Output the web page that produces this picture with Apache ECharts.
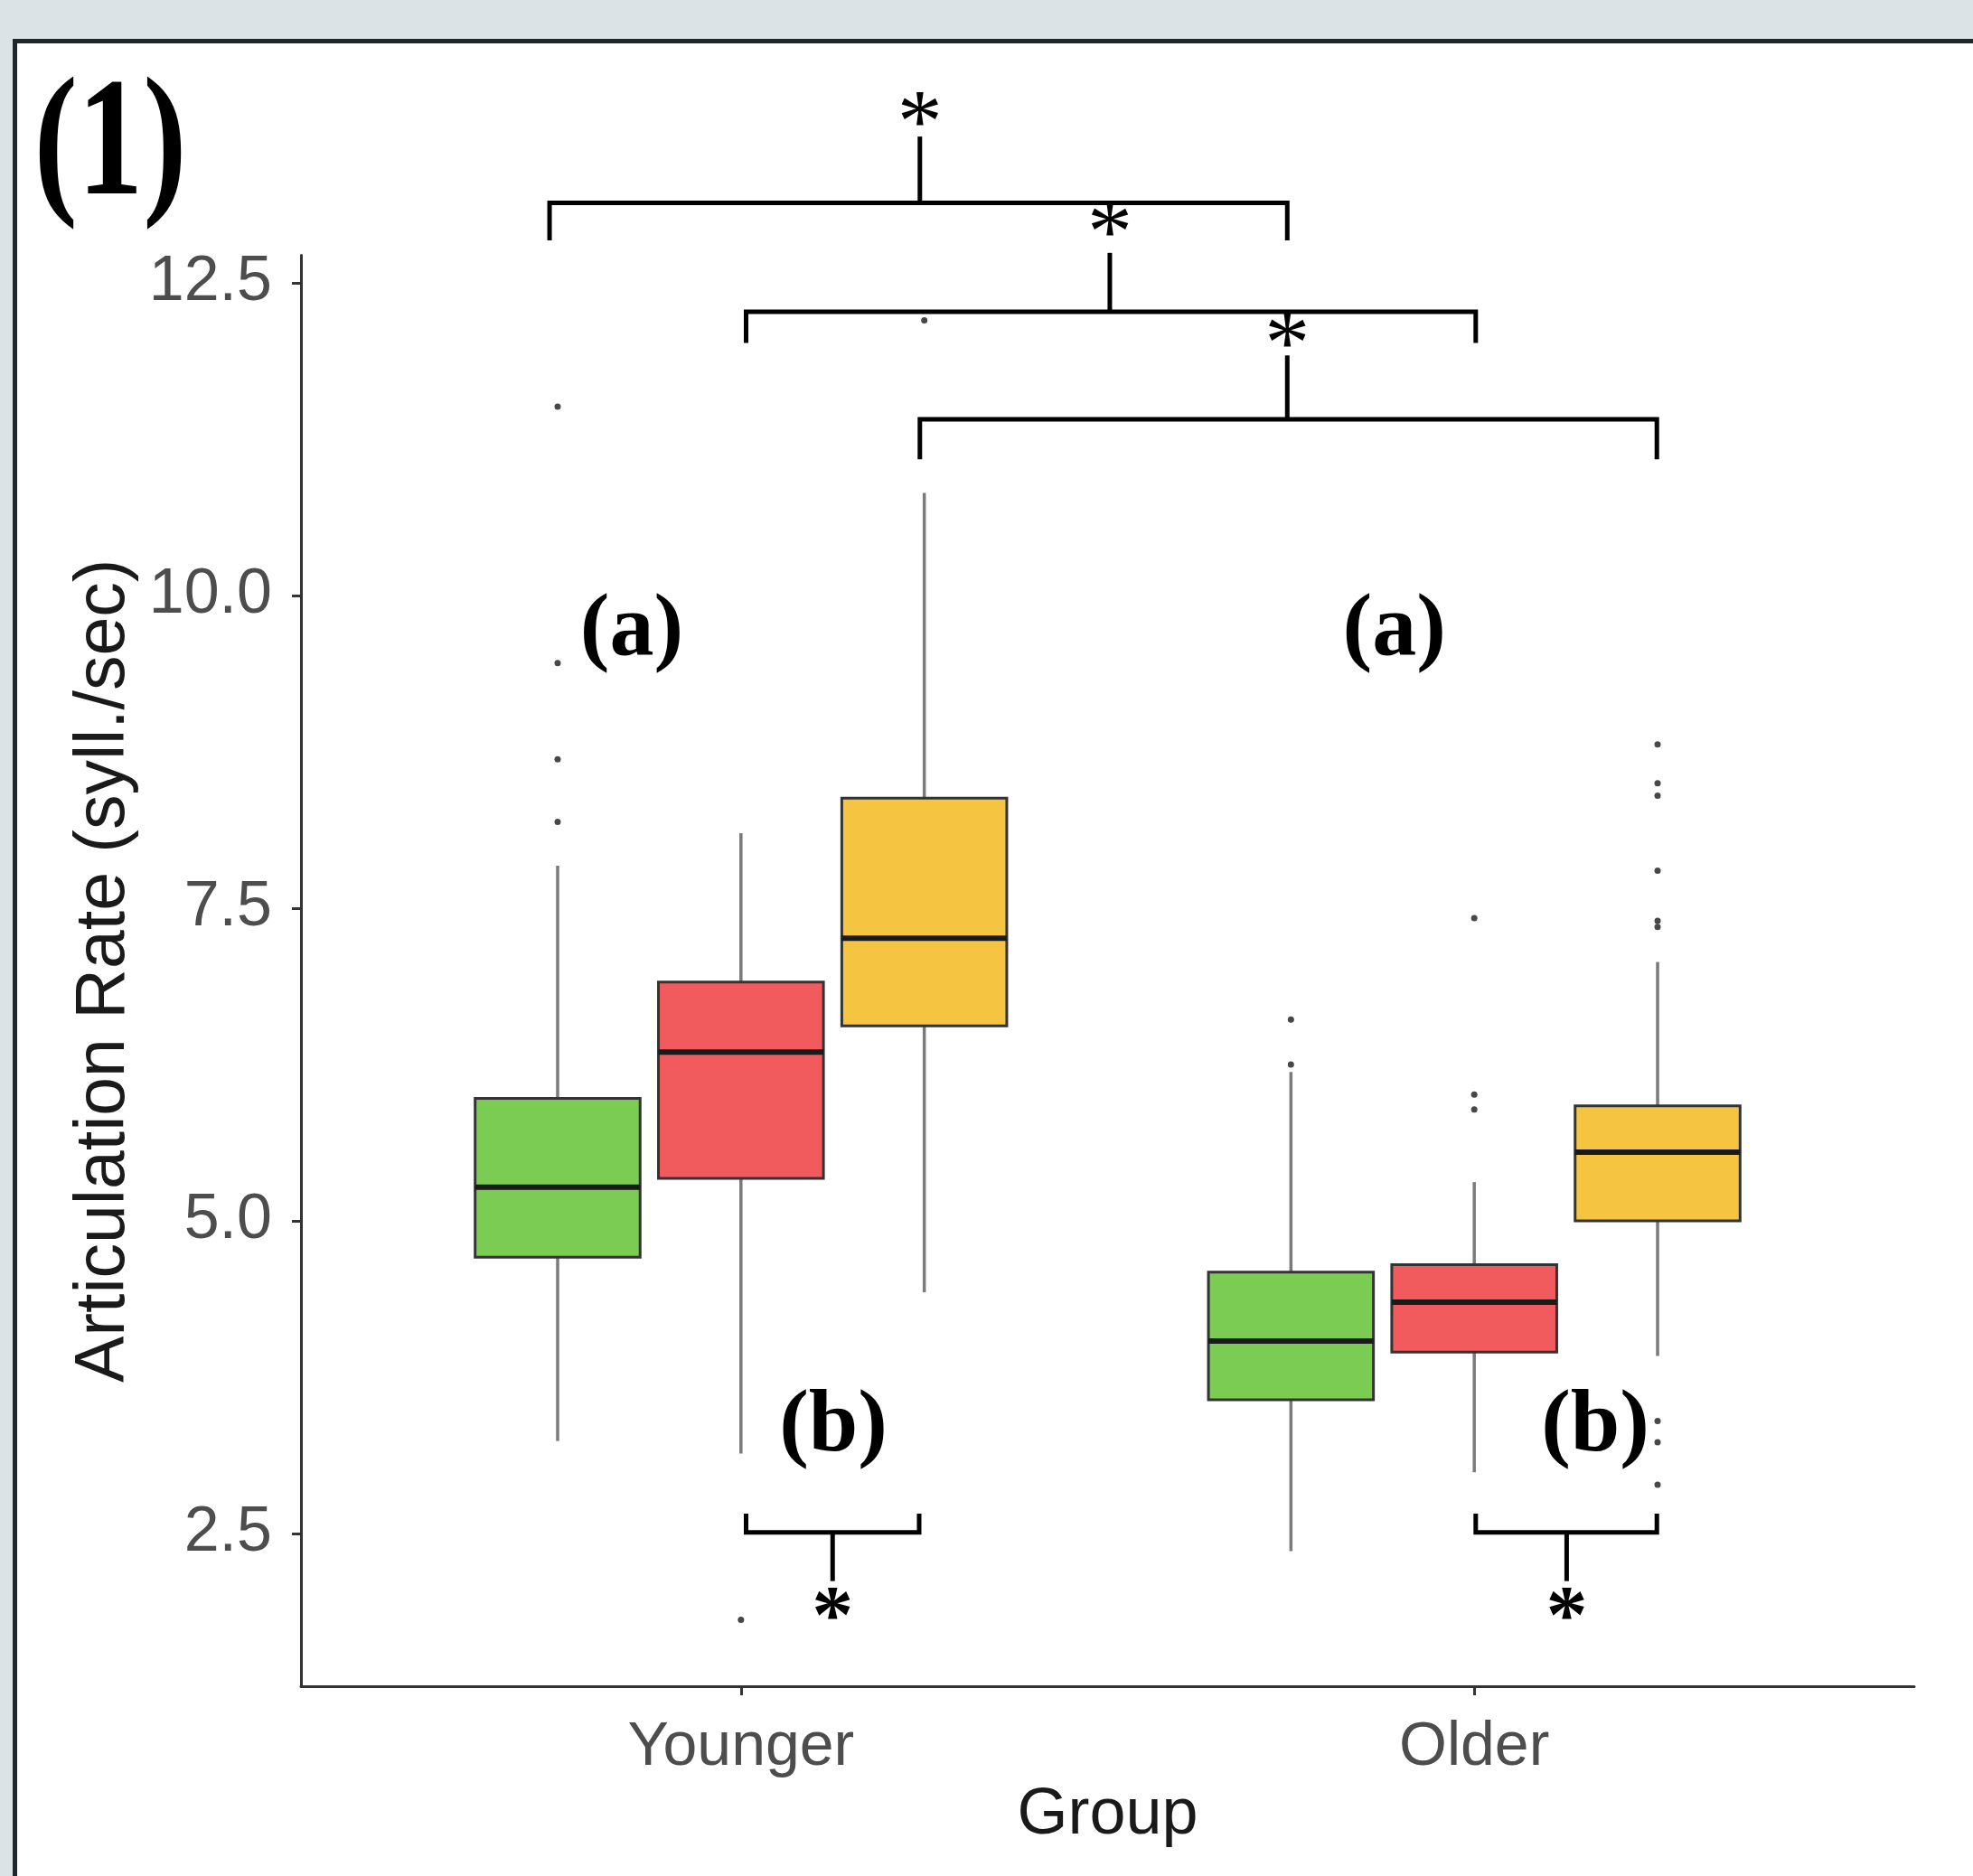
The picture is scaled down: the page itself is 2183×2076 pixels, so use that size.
<!DOCTYPE html>
<html>
<head>
<meta charset="utf-8">
<script src="https://cdn.jsdelivr.net/npm/echarts@6/dist/echarts.min.js"></script>
<style>
html, body { margin: 0; padding: 0; width: 2183px; height: 2076px; overflow: hidden; background: #dce3e6; }
#frame { position: absolute; left: 14px; top: 43px; width: 2250px; height: 2150px; background: #ffffff;
         border-left: 5px solid #1d272c; border-top: 5px solid #1d272c; }
#chart { position: absolute; left: 0; top: 0; width: 2183px; height: 2076px; }
</style>
</head>
<body>
<div id="frame"></div>
<div id="chart"></div>
<script>
// ---------- data ----------
const groups = ['Younger', 'Older'];
const conditions = ['Condition 1', 'Condition 2', 'Condition 3'];
const yTicks = [2.5, 5.0, 7.5, 10.0, 12.5];

// [min whisker, Q1, median, Q3, max whisker] for Younger, Older
const cond1Stats = [[3.24, 4.71, 5.27, 5.98, 7.84], [2.36, 3.57, 4.04, 4.59, 6.19]];
const cond2Stats = [[3.14, 5.34, 6.35, 6.91, 8.10], [2.99, 3.95, 4.35, 4.65, 5.31]];
const cond3Stats = [[4.43, 6.56, 7.26, 8.38, 10.82], [3.92, 5.00, 5.55, 5.92, 7.07]];

// outliers for Younger, Older
const cond1Outliers = [[11.51, 9.46, 8.69, 8.19], [6.61, 6.25]];
const cond2Outliers = [[1.81], [7.42, 6.01, 5.89]];
const cond3Outliers = [[12.2], [8.81, 8.50, 8.40, 7.80, 7.40, 7.35, 3.40, 3.23, 2.89]];

// significance brackets: [xStart, xEnd, xStem, yBar, yEnds, yStemEnd, yStar, bold]
const brackets = [
  [0.739, 1.745, 1.244, 13.14, 12.84, 13.67, 13.89, 0],
  [1.007, 2.002, 1.503, 12.27, 12.02, 12.74, 13.01, 0],
  [1.244, 2.249, 1.745, 11.41, 11.09, 11.92, 12.12, 0],
  [1.007, 1.243, 1.125, 2.51, 2.66, 2.12, 1.94, 1],
  [2.002, 2.249, 2.126, 2.51, 2.66, 2.12, 1.94, 1]
];
// letter annotations: text, x, y
const letterText = ['(a)', '(a)', '(b)', '(b)'];
const letterX = [0.851, 1.891, 1.126, 2.165];
const letterY = [9.73, 9.73, 3.36, 3.36];

// ---------- styling / layout ----------
const colors = ['#7acc52', '#f25b5e', '#f5c542'];
const dodge = [-0.25, 0, 0.25];
const BOX_W = 0.225;
const statsList = [cond1Stats, cond2Stats, cond3Stats];
const outlierList = [cond1Outliers, cond2Outliers, cond3Outliers];

function boxRenderer(color) {
  return function (params, api) {
    const x = api.value(0);
    const lo = api.coord([x, api.value(1)]);
    const q1 = api.coord([x, api.value(2)]);
    const md = api.coord([x, api.value(3)]);
    const q3 = api.coord([x, api.value(4)]);
    const hi = api.coord([x, api.value(5)]);
    const hw = api.size([BOX_W, 0])[0] / 2;
    const wStyle = { stroke: '#7a7a7a', lineWidth: 3.5 };
    return {
      type: 'group',
      children: [
        { type: 'line', shape: { x1: lo[0], y1: lo[1], x2: q1[0], y2: q1[1] }, style: wStyle },
        { type: 'line', shape: { x1: q3[0], y1: q3[1], x2: hi[0], y2: hi[1] }, style: wStyle },
        { type: 'rect', shape: { x: q1[0] - hw, y: q3[1], width: 2 * hw, height: q1[1] - q3[1] },
          style: { fill: color, stroke: '#333333', lineWidth: 3 } },
        { type: 'line', shape: { x1: md[0] - hw, y1: md[1], x2: md[0] + hw, y2: md[1] },
          style: { stroke: '#1a1a1a', lineWidth: 6 } }
      ]
    };
  };
}

function bracketRenderer(params, api) {
  const v = (i) => api.value(i);
  const pL = api.coord([v(0), v(3)]), pR = api.coord([v(1), v(3)]);
  const eL = api.coord([v(0), v(4)]), eR = api.coord([v(1), v(4)]);
  const sB = api.coord([v(2), v(3)]), sE = api.coord([v(2), v(5)]);
  const st = api.coord([v(2), v(6)]);
  const bold = v(7) === 1;
  const fs = bold ? 92 : 100;
  return {
    type: 'group',
    children: [
      { type: 'polyline', shape: { points: [eL, pL, pR, eR] },
        style: { stroke: '#000', lineWidth: 5, fill: null, lineJoin: 'miter' } },
      { type: 'line', shape: { x1: sB[0], y1: sB[1], x2: sE[0], y2: sE[1] },
        style: { stroke: '#000', lineWidth: 5 } },
      { type: 'text', x: st[0], y: st[1] + 0.2 * fs,
        style: { text: '*', fill: '#000', align: 'center', verticalAlign: 'middle',
                 font: (bold ? 'bold ' : '') + fs + 'px "Liberation Serif"' } }
    ]
  };
}

function letterRenderer(params, api) {
  const p = api.coord([api.value(0), api.value(1)]);
  const fs = 98;
  return {
    type: 'text', x: p[0], y: p[1] + 2,
    style: { text: letterText[params.dataIndex], fill: '#000', align: 'center', verticalAlign: 'middle',
             font: 'bold ' + fs + 'px "Liberation Serif"' }
  };
}

const series = [];
statsList.forEach(function (stats, c) {
  series.push({
    name: conditions[c],
    type: 'custom',
    coordinateSystem: 'cartesian2d',
    renderItem: boxRenderer(colors[c]),
    encode: { x: 0, y: [1, 2, 3, 4, 5] },
    data: stats.map(function (s, g) { return [g + 1 + dodge[c]].concat(s); }),
    z: 2
  });
});

const outlierData = [];
outlierList.forEach(function (outs, c) {
  outs.forEach(function (vals, g) {
    vals.forEach(function (val) { outlierData.push([g + 1 + dodge[c], val]); });
  });
});
series.push({
  name: 'Outliers', type: 'scatter', data: outlierData, symbol: 'circle', symbolSize: 7,
  itemStyle: { color: '#1a1a1a' }, z: 3, silent: true
});
series.push({
  name: 'Brackets', type: 'custom', coordinateSystem: 'cartesian2d', renderItem: bracketRenderer,
  encode: { x: [0, 1, 2], y: [3, 4, 5, 6] }, data: brackets, clip: false, z: 5, silent: true
});
series.push({
  name: 'Letters', type: 'custom', coordinateSystem: 'cartesian2d', renderItem: letterRenderer,
  encode: { x: 0, y: 1 }, data: letterX.map(function (x, i) { return [x, letterY[i]]; }),
  clip: false, z: 5, silent: true
});

const chart = echarts.init(document.getElementById('chart'), null, { renderer: 'canvas' });
chart.setOption({
  animation: false,
  backgroundColor: 'transparent',
  textStyle: { fontFamily: 'Liberation Sans' },
  grid: { left: 333, right: 65, top: 282.6, bottom: 210.1, containLabel: false },
  xAxis: {
    type: 'value', min: 0.4, max: 2.6,
    axisLine: { show: true, onZero: false, lineStyle: { color: '#333333', width: 3 } },
    axisTick: { show: true, customValues: [1, 2], length: 10, lineStyle: { color: '#333333', width: 3 } },
    axisLabel: { customValues: [1, 2], formatter: function (v) { return groups[Math.round(v) - 1]; },
                 fontSize: 68, color: '#4d4d4d', margin: 34, fontFamily: 'Liberation Sans' },
    splitLine: { show: false },
    name: 'Group', nameLocation: 'middle', nameGap: 106,
    nameTextStyle: { fontSize: 72, color: '#1a1a1a', fontFamily: 'Liberation Sans' }
  },
  yAxis: {
    type: 'value', min: 1.28, max: 12.72,
    axisLine: { show: true, onZero: false, lineStyle: { color: '#333333', width: 3 } },
    axisTick: { show: true, customValues: yTicks, length: 10, lineStyle: { color: '#333333', width: 3 } },
    axisLabel: { customValues: yTicks, formatter: function (v) { return v.toFixed(1); },
                 fontSize: 70, color: '#4d4d4d', margin: 32, fontFamily: 'Liberation Sans' },
    splitLine: { show: false },
    name: 'Articulation Rate (syll./sec)', nameLocation: 'middle', nameGap: 178, nameRotate: 90,
    nameTextStyle: { fontSize: 77, color: '#1a1a1a', fontFamily: 'Liberation Sans' }
  },
  graphic: [{
    type: 'text', x: 122, y: 166, scaleX: 0.78,
    style: { text: '(1)', fill: '#000', align: 'center', verticalAlign: 'middle',
             font: 'bold 186px "Liberation Serif"' }
  }],
  series: series
});
</script>
</body>
</html>
